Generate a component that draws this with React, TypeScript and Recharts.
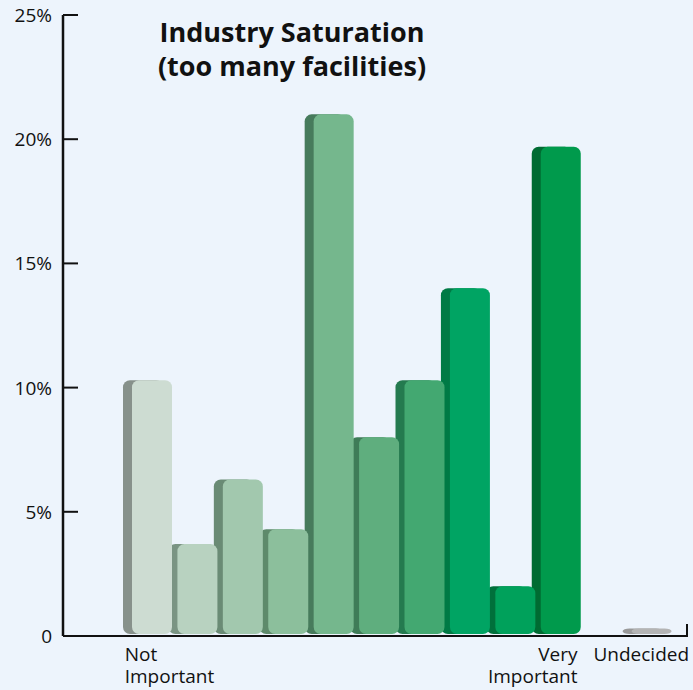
import React from "react";
import { BarChart, Bar, XAxis, YAxis, Cell } from "recharts";

// one category per response level, plus an empty slot before "Undecided"
const categories = ["1", "2", "3", "4", "5", "6", "7", "8", "9", "10", "gap", "Undecided"];
const values = [10.3, 3.7, 6.3, 4.3, 21.0, 8.0, 10.3, 14.0, 2.0, 19.7, 0, 0.3];
const tickLabels = ["Not\nImportant", "", "", "", "", "", "", "", "", "Very\nImportant", "", "Undecided"];
const yTicks = [0, 5, 10, 15, 20, 25];

const frontColors = [
  "#cddcd2", "#b8d2c0", "#a2c8ae", "#8cbf9c", "#75b78d",
  "#5fae7e", "#43a871", "#00a463", "#00a15b", "#009a4c", "none", "#b4b4b4",
];
const sideColors = [
  "#87918b", "#7a9483", "#6a8b75", "#5e8a6b", "#477b5c",
  "#3f7c58", "#247a4f", "#007a45", "#00703b", "#006b32", "none", "#999999",
];

const data = categories.map((name, i) => ({ name, value: values[i] }));

const FONT = "'Open Sans', 'Noto Sans', sans-serif";

const SideShape = (props: any) => {
  const { x, y, width, height, fill } = props;
  if (!height || height <= 0) return null;
  return <rect x={x - 9} y={y} width={width} height={height - 2} rx={7} ry={7} fill={fill} />;
};

const FrontShape = (props: any) => {
  const { x, y, width, height, fill } = props;
  if (!height || height <= 0) return null;
  return <rect x={x} y={y} width={width} height={height - 2} rx={7} ry={7} fill={fill} />;
};

const YTick = (props: any) => {
  const { x, y, payload } = props;
  const v = payload.value;
  return (
    <g>
      <line x1={x} x2={x + 15} y1={y} y2={y} stroke="#111" strokeWidth={2} />
      <text x={x - 11} y={y} dy={7} textAnchor="end" fontSize={19} fontFamily={FONT} fill="#111">
        {v === 0 ? "0" : `${v}%`}
      </text>
    </g>
  );
};

const XTick = (props: any) => {
  const { x, y, index } = props;
  const label = tickLabels[index];
  if (!label) return null;
  let anchor: "start" | "middle" | "end" = "middle";
  let dx = -10;
  if (index === 0) {
    anchor = "start";
    dx = -27;
  } else if (index === 9) {
    anchor = "end";
    dx = 17;
  }
  const lines = label.split("\n");
  return (
    <g>
      {lines.map((l, i) => (
        <text
          key={i}
          x={x + dx}
          y={y + 25 + i * 22}
          textAnchor={anchor}
          fontSize={19}
          fontFamily={FONT}
          fill="#111"
        >
          {l}
        </text>
      ))}
    </g>
  );
};

export default function App() {
  const pad = { left: 66, right: 14 };
  return (
    <div style={{ position: "absolute", left: 0, top: 0, width: 693, height: 690, background: "#edf4fc" }}>
      <BarChart
        width={693}
        height={690}
        data={data}
        margin={{ top: 15, right: 5, left: 0, bottom: 24 }}
        barSize={40}
      >
        <XAxis
          xAxisId="front"
          dataKey="name"
          padding={pad}
          height={30}
          axisLine={{ stroke: "#111", strokeWidth: 2 }}
          tickLine={false}
          tickSize={0}
          tickMargin={0}
          interval={0}
          tick={<XTick />}
        />
        <XAxis xAxisId="side" dataKey="name" padding={pad} hide />
        <YAxis
          width={63}
          domain={[0, 25]}
          ticks={yTicks}
          axisLine={{ stroke: "#111", strokeWidth: 2.5 }}
          tickLine={false}
          tickSize={0}
          tickMargin={0}
          tick={<YTick />}
        />
        <Bar xAxisId="side" dataKey="value" shape={<SideShape />} isAnimationActive={false}>
          {data.map((d, i) => (
            <Cell key={d.name} fill={sideColors[i]} />
          ))}
        </Bar>
        <Bar xAxisId="front" dataKey="value" shape={<FrontShape />} isAnimationActive={false}>
          {data.map((d, i) => (
            <Cell key={d.name} fill={frontColors[i]} />
          ))}
        </Bar>
      </BarChart>
      <div
        style={{
          position: "absolute",
          left: 110,
          top: 15,
          width: 364,
          textAlign: "center",
          fontFamily: FONT,
          fontWeight: 700,
          fontSize: 27,
          lineHeight: "34px",
          color: "#111",
        }}
      >
        Industry Saturation
        <br />
        (too many facilities)
      </div>
      <div style={{ position: "absolute", left: 686, top: 624, width: 2, height: 13, background: "#111" }} />
    </div>
  );
}
